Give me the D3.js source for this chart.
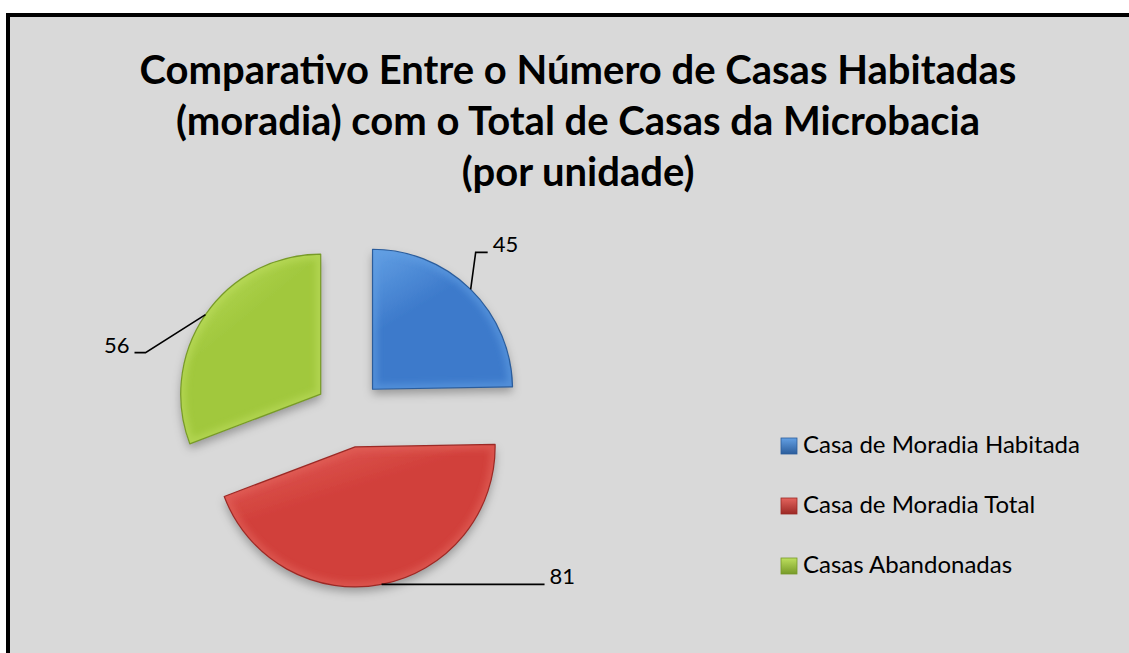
<!DOCTYPE html>
<html>
<head>
<meta charset="utf-8">
<script src="https://cdn.jsdelivr.net/npm/d3@7"></script>
<style>
  html, body { margin: 0; padding: 0; background: #ffffff; }
  svg { display: block; }
</style>
</head>
<body>
<svg id="chart" width="1129" height="653"></svg>
<script>
// ---- data ----
const categories = ["Casa de Moradia Habitada", "Casa de Moradia Total", "Casas Abandonadas"];
const values = [45, 81, 56];
const titleLines = [
  "Comparativo Entre o Número de Casas Habitadas",
  "(moradia) com o Total de Casas da Microbacia",
  "(por unidade)"
];

// ---- style / layout ----
const colors = [
  { base: "#3d7acb", light: "#63a0e4", dark: "#2b5d9c" },
  { base: "#d13f3a", light: "#e4645d", dark: "#9c2925" },
  { base: "#a1c83e", light: "#bddf5e", dark: "#779a28" }
];
// leader layout: elbow offset from arc-mid anchor, then horizontal tail
const leaderLayout = [
  { ex: 5, ey: -37, tail: 12 },
  { ex: 0, ey: 0, tail: 163 },
  { ex: -60, ey: 38, tail: -11 }
];

const svg = d3.select("#chart");
const W = 1129, H = 653;

// background + border
svg.append("rect").attr("x", 8).attr("y", 15).attr("width", W + 20).attr("height", H + 20)
  .attr("fill", "#d9d9d9").attr("stroke", "#000").attr("stroke-width", 4);

const defs = svg.append("defs");
const shadow = defs.append("filter").attr("id", "shadow")
  .attr("x", "-20%").attr("y", "-20%").attr("width", "140%").attr("height", "150%");
shadow.append("feDropShadow").attr("dx", 0).attr("dy", 5).attr("stdDeviation", 5)
  .attr("flood-color", "#000").attr("flood-opacity", 0.3);
const blur = defs.append("filter").attr("id", "bevelBlur");
blur.append("feGaussianBlur").attr("stdDeviation", 3);

colors.forEach((c, i) => {
  const g = defs.append("linearGradient").attr("id", "grad" + i)
    .attr("x1", "0%").attr("y1", "0%").attr("x2", "60%").attr("y2", "100%");
  g.append("stop").attr("offset", "0%").attr("stop-color", c.light);
  g.append("stop").attr("offset", "45%").attr("stop-color", c.base);
  g.append("stop").attr("offset", "100%").attr("stop-color", c.base);
  const lg = defs.append("linearGradient").attr("id", "lgrad" + i)
    .attr("x1", "0%").attr("y1", "0%").attr("x2", "0%").attr("y2", "100%");
  lg.append("stop").attr("offset", "0%").attr("stop-color", c.light);
  lg.append("stop").attr("offset", "100%").attr("stop-color", c.dark);
});

// title
svg.append("g").selectAll("text").data(titleLines).join("text")
  .attr("x", 578)
  .attr("y", (d, i) => 84 + i * 51)
  .attr("text-anchor", "middle")
  .attr("font-family", "Lato, 'Open Sans', sans-serif")
  .attr("font-weight", "bold")
  .attr("font-size", 40)
  .attr("fill", "#000")
  .text(d => d);

// pie
const cx = 348.7, cy = 413.5, R = 140, explode = 34;
const pie = d3.pie().sort(null).value(d => d);
const arcs = pie(values);
const arc = d3.arc().innerRadius(0).outerRadius(R);

const pieG = svg.append("g").attr("transform", `translate(${cx},${cy})`);
const slices = pieG.selectAll("g.slice").data(arcs).join("g")
  .attr("class", "slice")
  .attr("transform", d => {
    const a = (d.startAngle + d.endAngle) / 2;
    return `translate(${Math.sin(a) * explode},${-Math.cos(a) * explode})`;
  });

slices.each(function(d, i) {
  const s = d3.select(this);
  const clipId = "clip" + i;
  defs.append("clipPath").attr("id", clipId).append("path").attr("d", arc(d));
  s.append("path").attr("d", arc(d)).attr("fill", `url(#grad${i})`).attr("filter", "url(#shadow)");
  s.append("path").attr("d", arc(d)).attr("fill", "none")
    .attr("stroke", colors[i].light).attr("stroke-width", 10).attr("stroke-opacity", 0.55)
    .attr("filter", "url(#bevelBlur)").attr("clip-path", `url(#${clipId})`);
  s.append("path").attr("d", arc(d)).attr("fill", "none")
    .attr("stroke", colors[i].dark).attr("stroke-width", 1.2).attr("stroke-linejoin", "round");
});

// leader lines + labels
const labelG = svg.append("g");
arcs.forEach((d, i) => {
  const a = (d.startAngle + d.endAngle) / 2;
  const ox = cx + Math.sin(a) * explode, oy = cy - Math.cos(a) * explode;
  const ax = ox + Math.sin(a) * R, ay = oy - Math.cos(a) * R;
  const L = leaderLayout[i];
  const ex = ax + L.ex, ey = ay + L.ey;
  const tx = ex + L.tail;
  labelG.append("polyline")
    .attr("points", `${ax},${ay} ${ex},${ey} ${tx},${ey}`)
    .attr("fill", "none").attr("stroke", "#000").attr("stroke-width", 1.6);
  labelG.append("text")
    .attr("x", L.tail > 0 ? tx + 5 : tx - 5)
    .attr("y", ey)
    .attr("text-anchor", L.tail > 0 ? "start" : "end")
    .attr("font-family", "Lato, 'Open Sans', sans-serif")
    .attr("font-size", 22)
    .attr("fill", "#000")
    .text(d.data);
});

// legend
const legend = svg.append("g").selectAll("g").data(categories).join("g")
  .attr("transform", (d, i) => `translate(781,${438 + i * 60})`);
legend.append("rect").attr("width", 16).attr("height", 16)
  .attr("fill", (d, i) => `url(#lgrad${i})`)
  .attr("stroke", (d, i) => colors[i].dark).attr("stroke-width", 0.8);
legend.append("text").attr("x", 22).attr("y", 15)
  .attr("font-family", "Lato, 'Open Sans', sans-serif")
  .attr("font-size", 24)
  .attr("fill", "#000")
  .text(d => d);
</script>
</body>
</html>
